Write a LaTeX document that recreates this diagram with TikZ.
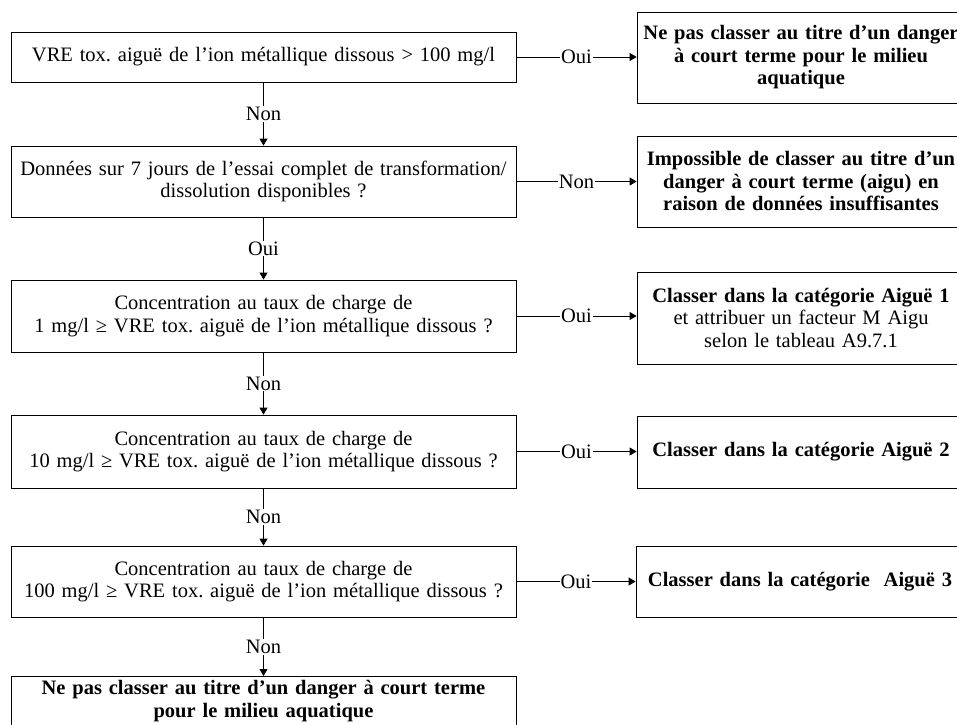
\documentclass[tikz,border=0pt]{standalone}
\usepackage{fontspec}
\setmainfont{Liberation Serif}
\usetikzlibrary{arrows.meta}
\newcommand{\basefont}{\fontsize{20.5}{22.5}\selectfont}
\tikzset{
  qbox/.style={draw, line width=0.8pt, minimum width=505pt, align=center, inner sep=0pt, text width=505pt},
  rbox/.style={draw, line width=0.8pt, text width=328pt, inner xsep=0pt, inner ysep=0pt, align=center, font=\basefont\bfseries},
  lbl/.style={fill=white, inner sep=1pt},
  arr/.style={line width=0.8pt, -{Triangle[length=7pt,width=8pt]}}
}
\begin{document}
\frenchspacing
\begin{tikzpicture}[x=1pt,y=-1pt, font=\basefont]
\path[use as bounding box, clip] (0,0) rectangle (957,724);
\fill[white] (0,0) rectangle (957,724);
% left column
\node[qbox, minimum height=50pt] (q1) at (263.5,57) {VRE tox. aiguë de l’ion métallique dissous > 100 mg/l};
\node[qbox, minimum height=71pt] (q2) at (263.5,181.5) {Données sur 7 jours de l’essai complet de transformation/\\dissolution disponibles ?};
\node[qbox, minimum height=72pt] (q3) at (263.5,316) {Concentration au taux de charge de\\1 mg/l ≥ VRE tox. aiguë de l’ion métallique dissous ?};
\node[qbox, minimum height=73pt] (q4) at (263.5,451.5) {Concentration au taux de charge de\\10 mg/l ≥ VRE tox. aiguë de l’ion métallique dissous ?};
\node[qbox, minimum height=71pt] (q5) at (263.5,581.5) {Concentration au taux de charge de\\100 mg/l ≥ VRE tox. aiguë de l’ion métallique dissous ?};
\node[qbox, inner ysep=4pt, anchor=north, font=\basefont\bfseries] (q6) at (263.5,676) {Ne pas classer au titre d’un danger à court terme\\pour le milieu aquatique};
% right column
\node[rbox, minimum height=91pt] (r1) at (801,57.5) {Ne pas classer au titre d’un danger\\à court terme pour le milieu\\aquatique};
\node[rbox, minimum height=91pt] (r2) at (801,181.5) {Impossible de classer au titre d’un\\danger à court terme (aigu) en\\raison de données insuffisantes};
\node[rbox, minimum height=92pt] (r3) at (801,318) {Classer dans la catégorie Aiguë 1\\\mdseries et attribuer un facteur M Aigu\\\mdseries selon le tableau A9.7.1};
\node[rbox, minimum height=72pt] (r4) at (801,452) {Classer dans la catégorie Aiguë 2};
\node[rbox, minimum height=71pt] (r5) at (800,581.5) {Classer dans la catégorie\ \ Aiguë 3};
% horizontal connectors
\draw[arr] (q1.east) -- (q1.east -| r1.west) node[midway,lbl] {Oui};
\draw[arr] (q2.east) -- (q2.east -| r2.west) node[midway,lbl] {Non};
\draw[arr] (q3.east) -- (q3.east -| r3.west) node[midway,lbl] {Oui};
\draw[arr] (q4.east) -- (q4.east -| r4.west) node[midway,lbl] {Oui};
\draw[arr] (q5.east) -- (q5.east -| r5.west) node[midway,lbl] {Oui};
% vertical connectors
\draw[arr] (q1.south) -- (q2.north) node[midway,lbl] {Non};
\draw[arr] (q2.south) -- (q3.north) node[midway,lbl] {Oui};
\draw[arr] (q3.south) -- (q4.north) node[midway,lbl] {Non};
\draw[arr] (q4.south) -- (q5.north) node[midway,lbl] {Non};
\draw[arr] (q5.south) -- (q6.north) node[midway,lbl] {Non};
\end{tikzpicture}
\end{document}
